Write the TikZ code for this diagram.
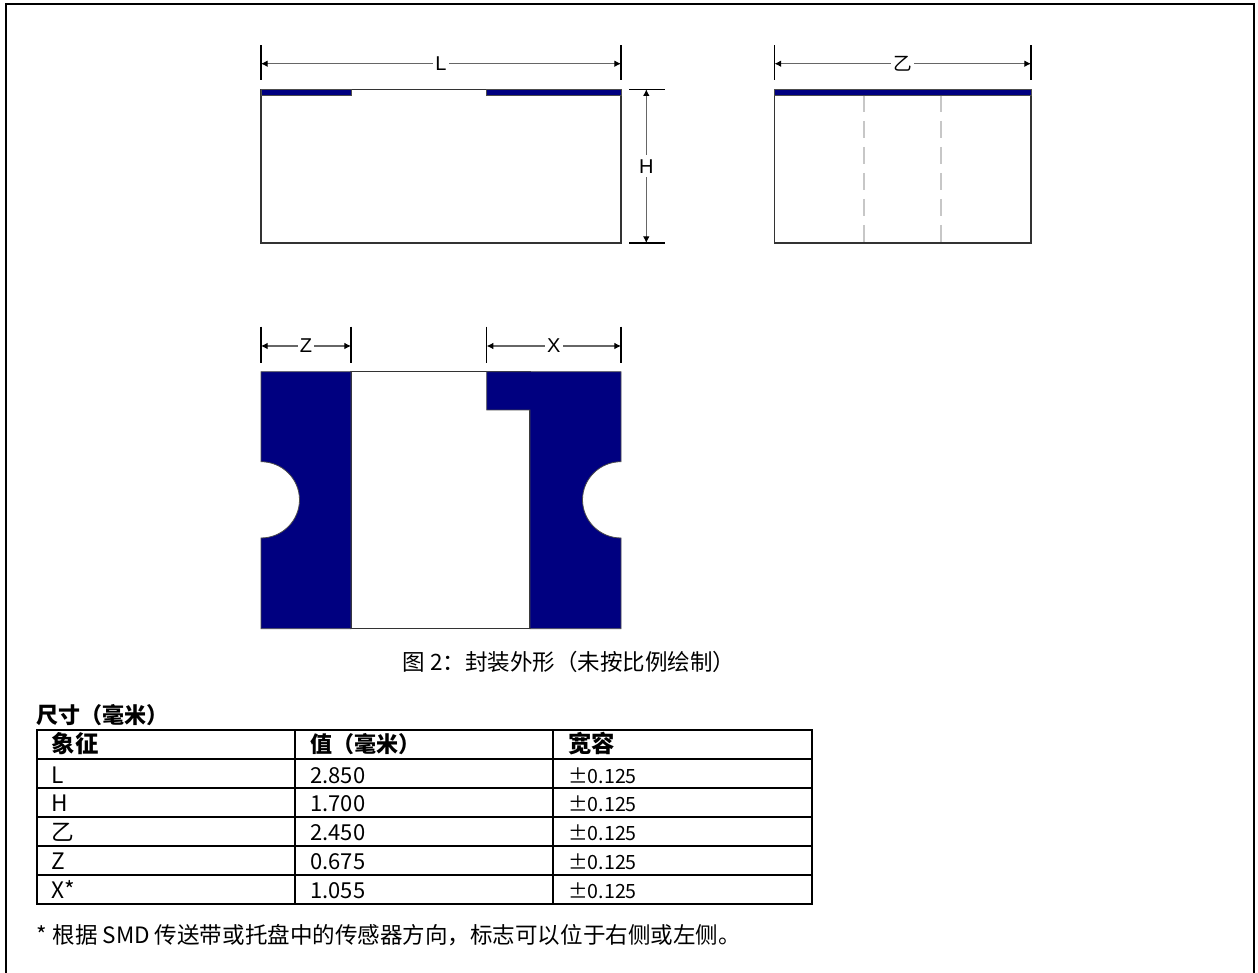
\documentclass[tikz,border=0pt]{standalone}
\usepackage{fontspec}
\setmainfont{Noto Sans CJK SC}
\newfontfamily\dimfont{Liberation Sans}
\usetikzlibrary{arrows.meta}
\definecolor{navy}{RGB}{0,0,128}
\tikzset{
  x=0.75pt,y=-0.75pt,
  part/.style={draw=black!80,line width=0.9pt,fill=white},
  pad/.style={draw=black!70,line width=0.6pt,fill=navy},
  tick/.style={draw=black,line width=1pt},
  dim/.style={draw=black!60,line width=0.8pt,{Latex[length=5pt,width=5pt,black]}-{Latex[length=5pt,width=5pt,black]}},
  dimlab/.style={fill=white,inner xsep=1.5pt,inner ysep=1pt,font=\dimfont\fontsize{15pt}{17pt}\selectfont},
  dimcjk/.style={fill=white,inner xsep=1.5pt,inner ysep=0pt,font=\fontsize{14pt}{15pt}\selectfont},
  grid/.style={draw=black,line width=1.2pt},
  cell/.style={anchor=base west,inner sep=0pt,font=\fontsize{16.5pt}{18pt}\selectfont},
  symcell/.style={anchor=base west,inner sep=0pt,font=\fontsize{17pt}{18pt}\selectfont},
  tolcell/.style={anchor=base west,inner sep=0pt,font=\fontsize{14.7pt}{18pt}\selectfont},
  notecell/.style={anchor=base west,inner sep=0pt,font=\fontsize{16.9pt}{18pt}\selectfont},
  hcell/.style={anchor=base west,inner sep=0pt,font=\fontsize{16.5pt}{18pt}\selectfont\bfseries},
  hcellw/.style={anchor=base west,inner sep=0pt,font=\fontsize{17.5pt}{18pt}\selectfont\bfseries},
  guide/.style={draw=black!22,line width=1.4pt,dash pattern=on 12.75pt off 6.75pt}
}
\begin{document}
\begin{tikzpicture}
\useasboundingbox (0,0) rectangle (1258,973);
\fill[white] (0,0) rectangle (1258,973);
% frame
\draw[black,line width=1.5pt] (6,973) -- (6,4) -- (1254,4) -- (1254,973);
% side view
\draw[part] (261,89.3) rectangle (621,243);
\draw[pad] (261,89.3) rectangle (351,95);
\draw[pad] (486.5,89.3) rectangle (621,95);
\coordinate (la) at (261,63.7); \coordinate (lb) at (621,63.7);
\draw[tick] (261,45.5) -- (261,80);
\draw[tick] (621,45.5) -- (621,80);
\draw[dim] (la) -- node[dimlab] (lL) {L} (lb);
\coordinate (ha) at (646.3,89.3); \coordinate (hb) at (646.3,243);
\draw[tick] (629,89.3) -- (665,89.3);
\draw[tick] (629,243) -- (665,243);
\draw[dim] (ha) -- node[dimlab,inner ysep=3pt] (lH) {H} (hb);
% end view
\draw[part] (774.5,89.3) rectangle (1031,243);
\draw[guide] (864.3,95) -- (864.3,243);
\draw[guide] (941.3,95) -- (941.3,243);
\draw[pad] (774.5,89.3) rectangle (1031,95);
\coordinate (wa) at (774.5,63.7); \coordinate (wb) at (1031,63.7);
\draw[tick] (774.5,45.5) -- (774.5,80);
\draw[tick] (1031,45.5) -- (1031,80);
\draw[dim] (wa) -- node[dimcjk] (lW) {乙} (wb);
% bottom view
\draw[part] (351,371.7) rectangle (530,628.7);
\draw[pad] (261,371.7) -- (351,371.7) -- (351,628.7) -- (261,628.7) -- (261,538)
  .. controls (282.1,538) and (299.5,520.9) .. (299.5,499.8)
  .. controls (299.5,478.7) and (282.1,461.7) .. (261,461.7) -- cycle;
\draw[pad] (486.7,371.7) -- (621,371.7) -- (621,461.7)
  .. controls (599.9,461.7) and (582.5,478.7) .. (582.5,499.8)
  .. controls (582.5,520.9) and (599.9,538) .. (621,538)
  -- (621,628.7) -- (530,628.7) -- (530,410) -- (486.7,410) -- cycle;
\coordinate (za) at (261,346); \coordinate (zb) at (351,346);
\draw[tick] (261,326.7) -- (261,362.7);
\draw[tick] (351,326.7) -- (351,362.7);
\draw[dim] (za) -- node[dimlab] (lZ) {Z} (zb);
\coordinate (xa) at (486.7,346); \coordinate (xb) at (621,346);
\draw[tick] (486.7,326.7) -- (486.7,362.7);
\draw[tick] (621,326.7) -- (621,362.7);
\draw[dim] (xa) -- node[dimlab] (lX) {X} (xb);
% caption
\node[notecell,anchor=base] (cap) at (569,671) {图 2：封装外形（未按比例绘制）};
% table
\node[hcell] (ttl) at (36.7,723.5) {尺寸（毫米）};
\draw[grid] (37,730) rectangle (812,903.7);
\draw[grid] (37,759) -- (812,759);
\draw[grid] (37,787.7) -- (812,787.7);
\draw[grid] (37,816.7) -- (812,816.7);
\draw[grid] (37,845.7) -- (812,845.7);
\draw[grid] (37,874.7) -- (812,874.7);
\draw[grid] (295,730) -- (295,903.7);
\draw[grid] (552.7,730) -- (552.7,903.7);
\node[hcellw] (h1) at (51.5,752.5) {象征};
\node[hcell] (h2) at (310,752.5) {值（毫米）};
\node[hcellw] (h3) at (568,752.5) {宽容};
\node[symcell] (a1) at (51,783) {L};
\node[symcell] (a2) at (51,811) {H};
\node[symcell] (a3) at (51,840) {乙};
\node[symcell] (a4) at (51,869) {Z};
\node[symcell] (a5) at (51,898) {X*};
\node[cell] (b1) at (310,783) {2.850};
\node[cell] (b2) at (310,811) {1.700};
\node[cell] (b3) at (310,840) {2.450};
\node[cell] (b4) at (310,869) {0.675};
\node[cell] (b5) at (310,898) {1.055};
\node[tolcell] (c1) at (568,783) {±0.125};
\node[tolcell] (c2) at (568,811.5) {±0.125};
\node[tolcell] (c3) at (568,840) {±0.125};
\node[tolcell] (c4) at (568,869) {±0.125};
\node[tolcell] (c5) at (568,898) {±0.125};
\node[notecell] (fn) at (36.7,943) {* 根据 SMD 传送带或托盘中的传感器方向，标志可以位于右侧或左侧。};
\end{tikzpicture}
\end{document}
